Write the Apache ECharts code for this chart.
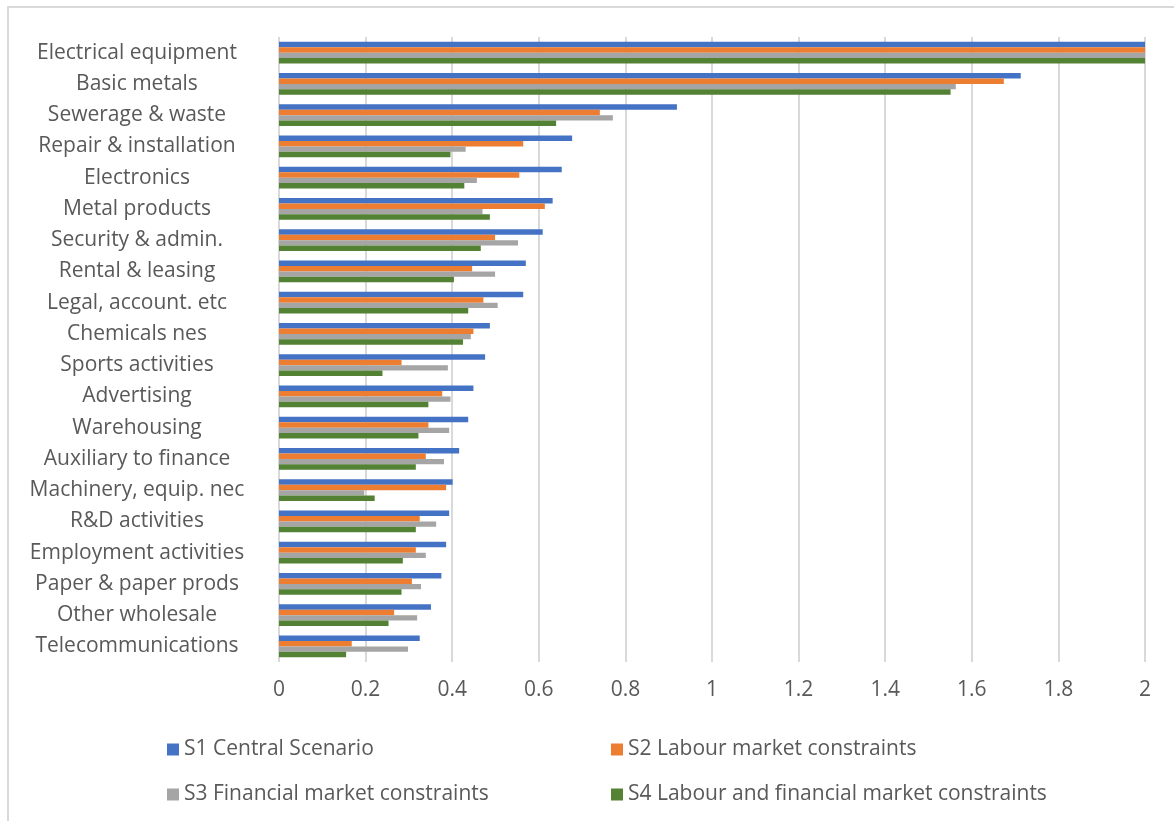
<!DOCTYPE html>
<html>
<head>
<meta charset="utf-8">
<script src="https://cdn.jsdelivr.net/npm/echarts@6/dist/echarts.min.js"></script>
<style>
html,body{margin:0;padding:0;background:#fff;}
#chart{width:1174px;height:821px;}
</style>
</head>
<body>
<div id="chart"></div>
<script>
const categories = ["Electrical equipment","Basic metals","Sewerage & waste","Repair & installation","Electronics","Metal products","Security & admin.","Rental & leasing","Legal, account. etc","Chemicals nes","Sports activities","Advertising","Warehousing","Auxiliary to finance","Machinery, equip. nec","R&D activities","Employment activities","Paper & paper prods","Other wholesale","Telecommunications"];
const seriesNames = ["S1 Central Scenario","S2 Labour market constraints","S3 Financial market constraints","S4 Labour and financial market constraints"];
const s1 = [2.0,1.713,0.919,0.677,0.653,0.632,0.609,0.570,0.564,0.487,0.476,0.449,0.437,0.416,0.401,0.393,0.386,0.375,0.351,0.325];
const s2 = [2.0,1.674,0.741,0.564,0.555,0.614,0.499,0.446,0.472,0.449,0.283,0.377,0.345,0.339,0.386,0.325,0.316,0.307,0.266,0.168];
const s3 = [2.0,1.563,0.771,0.431,0.457,0.470,0.552,0.499,0.505,0.443,0.390,0.396,0.393,0.381,0.197,0.363,0.339,0.328,0.319,0.298];
const s4 = [2.0,1.551,0.640,0.396,0.428,0.487,0.466,0.404,0.437,0.425,0.239,0.345,0.322,0.316,0.221,0.316,0.286,0.283,0.253,0.155];
const xTicks = [0,0.2,0.4,0.6,0.8,1,1.2,1.4,1.6,1.8,2];

const colors = ["#4472C4","#ED7D31","#A5A5A5","#548235"];
const values = [s1,s2,s3,s4];
const font = "'Open Sans', 'Liberation Sans', sans-serif";
const txt = "#595959";

const chart = echarts.init(document.getElementById('chart'), null, {renderer:'canvas'});
const legendPos = [[162,734],[606,734],[162,779],[606,779]];
const option = {
  animation:false,
  backgroundColor:'#fff',
  graphic:[{type:'rect',shape:{x:8,y:7,width:1200,height:900},style:{fill:'none',stroke:'#d9d9d9',lineWidth:2},silent:true}],
  grid:{left:279,right:29,top:37,bottom:159,containLabel:false},
  xAxis:{
    type:'value',min:0,max:2,interval:0.2,
    axisLine:{show:false},axisTick:{show:false},
    splitLine:{show:true,lineStyle:{color:'#d9d9d9',width:2}},
    axisLabel:{color:txt,fontFamily:font,fontSize:21,margin:18,
      formatter:function(v){const t=xTicks.find(x=>Math.abs(x-v)<1e-9);return t===undefined?'':String(t);}}
  },
  yAxis:{
    type:'category',data:categories,inverse:true,
    axisLine:{show:false},axisTick:{show:false},
    axisLabel:{color:txt,fontFamily:font,fontSize:21,align:'center',margin:142}
  },
  legend: seriesNames.map((n,i)=>({
    data:[n],left:legendPos[i][0],top:legendPos[i][1],
    itemWidth:12,itemHeight:12,icon:'rect',itemGap:5,
    textStyle:{color:txt,fontFamily:font,fontSize:21},
    selectedMode:false
  })),
  series: seriesNames.map((n,i)=>({
    name:n,type:'bar',data:values[i],
    itemStyle:{color:colors[i]},
    barGap:'0%',barCategoryGap:'30%',
    emphasis:{disabled:true}
  }))
};
chart.setOption(option);
</script>
</body>
</html>
